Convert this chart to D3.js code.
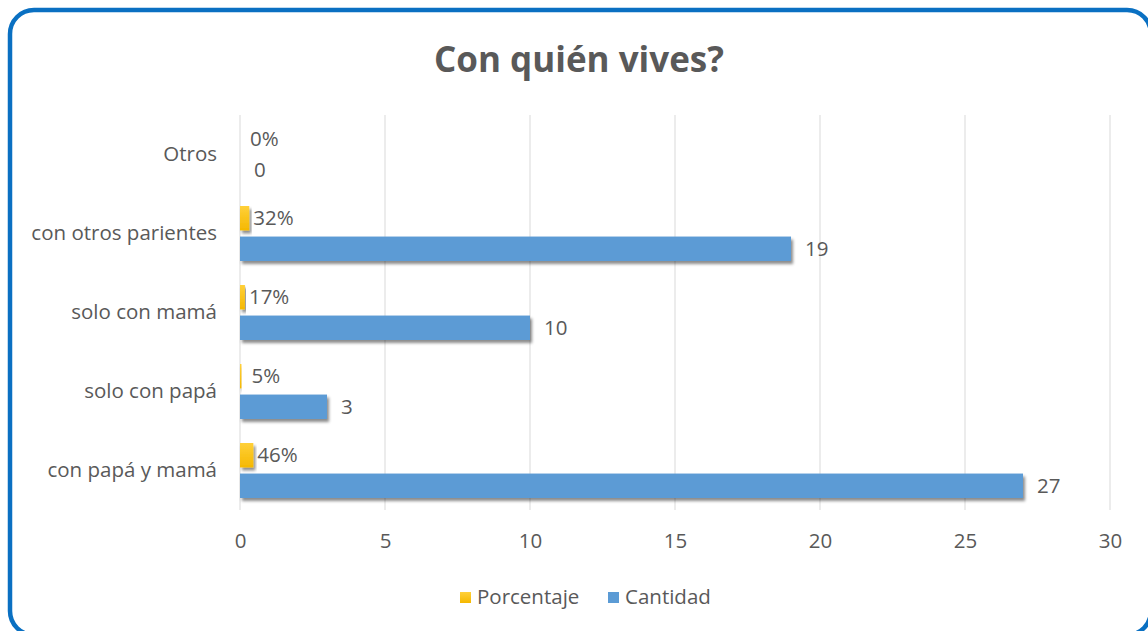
<!DOCTYPE html>
<html><head><meta charset="utf-8">
<script src="https://cdn.jsdelivr.net/npm/d3@7"></script>
<style>html,body{margin:0;padding:0;background:#fff;overflow:hidden}</style>
</head><body>
<svg id="c" width="1148" height="631"></svg>
<script>
const categories = ["Otros", "con otros parientes", "solo con mamá", "solo con papá", "con papá y mamá"];
const porcentaje = [0, 0.32, 0.17, 0.05, 0.46];
const cantidad = [0, 19, 10, 3, 27];
const porcentajeLabels = ["0%", "32%", "17%", "5%", "46%"];
const seriesNames = ["Porcentaje", "Cantidad"];
const xTicks = [0, 5, 10, 15, 20, 25, 30];

const font = "'Open Sans', sans-serif";
const txt = "#595959";
const fs = 20.5;
const colors = {Porcentaje: "#FFC000", Cantidad: "#5B9BD5"};

const svg = d3.select("#c");
const defs = svg.append("defs");
const f = defs.append("filter").attr("id","sh").attr("x","-10%").attr("y","-30%").attr("width","130%").attr("height","180%");
f.append("feDropShadow").attr("dx",2).attr("dy",3).attr("stdDeviation",1.8).attr("flood-color","#000").attr("flood-opacity",0.45);
const g1 = defs.append("linearGradient").attr("id","yg").attr("x1",0).attr("y1",0).attr("x2",0).attr("y2",1);
g1.append("stop").attr("offset","0%").attr("stop-color","#FFD03A");
g1.append("stop").attr("offset","100%").attr("stop-color","#F5B800");

// border
svg.append("rect").attr("x",10).attr("y",10).attr("width",1141).attr("height",625)
  .attr("rx",24).attr("ry",24).attr("fill","#fff").attr("stroke","#0A70C2").attr("stroke-width",4.5);

// title
svg.append("text").attr("x",579).attr("y",72).attr("text-anchor","middle")
  .attr("font-family",font).attr("font-weight","bold").attr("font-size",35).attr("fill",txt)
  .text("Con quién vives?");

const x = d3.scaleLinear().domain([0,30]).range([240,1110]);
const y = d3.scaleBand().domain(categories).range([115,510]);
const inner = d3.scaleBand().domain(seriesNames).range([-27.5,27.5]).paddingInner(0.2);

// gridlines
svg.append("g").selectAll("line").data(xTicks).join("line")
  .attr("x1",d=>x(d)).attr("x2",d=>x(d)).attr("y1",115).attr("y2",510)
  .attr("stroke","#D9D9D9").attr("stroke-width",1);

// axis tick labels
const xAxis = d3.axisBottom(x).tickValues(xTicks).tickSize(0).tickPadding(0);
const ax = svg.append("g").attr("transform","translate(0,548)").call(xAxis);
ax.select(".domain").remove();
ax.selectAll("text").attr("font-family",font).attr("font-size",fs).attr("fill",txt).attr("dy",0);

// category labels
const yAxis = d3.axisLeft(y).tickSize(0).tickPadding(0);
const ay = svg.append("g").attr("transform","translate(217,0)").call(yAxis);
ay.select(".domain").remove();
ay.selectAll("text").attr("font-family",font).attr("font-size",fs).attr("fill",txt);

const rows = categories.map((c,i)=>({c, p:porcentaje[i], q:cantidad[i], pl:porcentajeLabels[i]}));
const center = d => y(d.c) + y.bandwidth()/2;

// Porcentaje bars
svg.append("g").selectAll("rect").data(rows).join("rect")
  .attr("x",x(0)).attr("y",d=>center(d)+inner("Porcentaje"))
  .attr("width",d=>x(d.p)-x(0)).attr("height",inner.bandwidth())
  .attr("fill","url(#yg)").attr("filter","url(#sh)");
// Cantidad bars
svg.append("g").selectAll("rect").data(rows).join("rect")
  .attr("x",x(0)).attr("y",d=>center(d)+inner("Cantidad"))
  .attr("width",d=>x(d.q)-x(0)).attr("height",inner.bandwidth())
  .attr("fill",colors.Cantidad).attr("filter","url(#sh)");

// labels
svg.append("g").selectAll("text").data(rows).join("text")
  .attr("x",d=>x(d.p)+(d.p<0.1?10:4)).attr("y",d=>center(d)+inner("Porcentaje")+inner.bandwidth()/2)
  .attr("dy","0.35em").attr("font-family",font).attr("font-size",fs).attr("fill",txt)
  .text(d=>d.pl);
svg.append("g").selectAll("text").data(rows).join("text")
  .attr("x",d=>x(d.q)+14).attr("y",d=>center(d)+inner("Cantidad")+inner.bandwidth()/2)
  .attr("dy","0.35em").attr("font-family",font).attr("font-size",fs).attr("fill",txt)
  .text(d=>d.q);

// legend
const leg = svg.append("g").attr("font-family",font).attr("font-size",fs).attr("fill",txt);
const legItems = [{n:"Porcentaje",x:460,c:"url(#yg)"},{n:"Cantidad",x:608,c:colors.Cantidad}];
leg.selectAll("rect").data(legItems).join("rect")
  .attr("x",d=>d.x).attr("y",592).attr("width",11).attr("height",11).attr("fill",d=>d.c);
leg.selectAll("text").data(legItems).join("text")
  .attr("x",d=>d.x+17).attr("y",597).attr("dy","0.35em").text(d=>d.n);
</script>
</body></html>
